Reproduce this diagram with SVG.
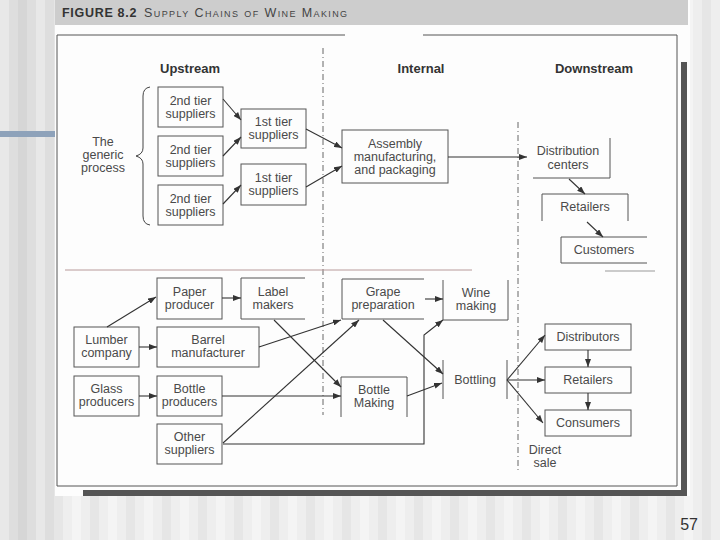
<svg xmlns="http://www.w3.org/2000/svg" width="720" height="540" viewBox="0 0 720 540">
<defs>
<pattern id="stripes" x="0" y="0" width="36" height="10" patternUnits="userSpaceOnUse">
<rect x="0" y="0" width="36" height="10" fill="#dedede"/>
<rect x="0" y="0" width="9" height="10" fill="#e8e8e8"/>
<rect x="18" y="0" width="9" height="10" fill="#d6d6d6"/>
</pattern>
<pattern id="stripesL" x="0" y="0" width="36" height="10" patternUnits="userSpaceOnUse">
<rect x="0" y="0" width="36" height="10" fill="#eeeeee"/>
<rect x="0" y="0" width="9" height="10" fill="#f4f4f4"/>
<rect x="18" y="0" width="9" height="10" fill="#e6e6e6"/>
</pattern>
<marker id="ah" markerWidth="8" markerHeight="6" refX="8" refY="3" orient="auto" markerUnits="userSpaceOnUse">
<path d="M0,0 L8,3 L0,6 z" fill="#333"/>
</marker>
<style>
.box{fill:none;stroke:#555;stroke-width:1}
.lbl{font-family:"Liberation Sans",Arial,sans-serif;font-size:12.5px;fill:#4a4a4a;text-anchor:middle}
.hdr{font-family:"Liberation Sans",Arial,sans-serif;font-size:13px;font-weight:bold;fill:#333;text-anchor:middle}
.cn{fill:none;stroke:#333;stroke-width:1.1;marker-end:url(#ah)}
.sep{fill:none;stroke:#666;stroke-width:1;stroke-dasharray:6,3,1,3}
</style>
</defs>
<rect x="0" y="0" width="720" height="540" fill="url(#stripesL)"/>
<rect x="0" y="0" width="54" height="540" fill="url(#stripes)"/>
<rect x="0" y="131" width="55" height="6" fill="#8ea2ba"/>
<rect x="55" y="0" width="635" height="496" fill="#fdfdfd"/>
<rect x="55" y="0" width="633" height="25" fill="#cdcdcd"/>
<text x="62" y="17" font-family="Liberation Sans, Arial, sans-serif" font-size="12.5" fill="#333"><tspan font-weight="bold" letter-spacing="0.7">FIGURE 8.2</tspan><tspan x="144" font-variant="small-caps" letter-spacing="1.4" fill="#444">Supply Chains of Wine Making</tspan></text>
<path d="M57,35 H345 M423,35 H677 V486 H57 V35" fill="none" stroke="#555" stroke-width="1"/>
<rect x="681" y="62" width="6" height="434" fill="#555"/>
<rect x="83" y="490" width="604" height="6" fill="#555"/>
<text x="698" y="530" font-family="Liberation Sans, Arial, sans-serif" font-size="16" fill="#333" text-anchor="end">57</text>
<g id="separators">
<line class="sep" x1="323" y1="48" x2="323" y2="415"/>
<line class="sep" x1="518" y1="122" x2="518" y2="470"/>
<line x1="65" y1="270" x2="472" y2="270" stroke="#b89a9a" stroke-width="1"/>
<line x1="605" y1="271" x2="655" y2="271" stroke="#999" stroke-width="1"/>
</g>
<g id="headers">
<text class="hdr" x="190" y="73">Upstream</text>
<text class="hdr" x="421" y="73">Internal</text>
<text class="hdr" x="594" y="73">Downstream</text>
</g>
<g id="generic">
<path d="M150,87 Q143,88 143,96 V148 Q143,154 136,156 Q143,158 143,164 V216 Q143,224 150,225" fill="none" stroke="#444" stroke-width="1"/>
<text class="lbl" x="103" y="146">The</text>
<text class="lbl" x="103" y="159">generic</text>
<text class="lbl" x="103" y="172">process</text>
</g>
<g id="t2a"><rect class="box" x="158" y="87" width="65" height="40"/><text class="lbl" x="190.5" y="105">2nd tier</text><text class="lbl" x="190.5" y="118">suppliers</text></g>
<g id="t2b"><rect class="box" x="158" y="136" width="65" height="40"/><text class="lbl" x="190.5" y="154">2nd tier</text><text class="lbl" x="190.5" y="167">suppliers</text></g>
<g id="t2c"><rect class="box" x="158" y="185" width="65" height="40"/><text class="lbl" x="190.5" y="203">2nd tier</text><text class="lbl" x="190.5" y="216">suppliers</text></g>
<g id="t1a"><rect class="box" x="241" y="109" width="65" height="39"/><text class="lbl" x="273.5" y="126">1st tier</text><text class="lbl" x="273.5" y="139">suppliers</text></g>
<g id="t1b"><rect class="box" x="241" y="164" width="65" height="41"/><text class="lbl" x="273.5" y="182">1st tier</text><text class="lbl" x="273.5" y="195">suppliers</text></g>
<g id="assembly"><rect class="box" x="342" y="130" width="106" height="53"/><text class="lbl" x="395" y="148">Assembly</text><text class="lbl" x="395" y="161">manufacturing,</text><text class="lbl" x="395" y="174">and packaging</text></g>
<g id="distcenters"><path class="box" d="M610,138 V178 H533"/><text class="lbl" x="568" y="155">Distribution</text><text class="lbl" x="568" y="169">centers</text></g>
<g id="retailers1"><path class="box" d="M542,221 V194 H628 V221"/><text class="lbl" x="585" y="211">Retailers</text></g>
<g id="customers1"><path class="box" d="M647,237 H561 V263 H647"/><text class="lbl" x="604" y="254">Customers</text></g>
<g id="paper"><rect class="box" x="157" y="278" width="65" height="41"/><text class="lbl" x="189.5" y="296">Paper</text><text class="lbl" x="189.5" y="309">producer</text></g>
<g id="label"><path class="box" d="M305,278 H241 V319 H305"/><text class="lbl" x="273" y="296">Label</text><text class="lbl" x="273" y="309">makers</text></g>
<g id="lumber"><rect class="box" x="74" y="327" width="65" height="40"/><text class="lbl" x="106.5" y="344">Lumber</text><text class="lbl" x="106.5" y="357">company</text></g>
<g id="barrel"><rect class="box" x="157" y="327" width="102" height="40"/><text class="lbl" x="208" y="344">Barrel</text><text class="lbl" x="208" y="357">manufacturer</text></g>
<g id="glass"><rect class="box" x="74" y="376" width="65" height="40"/><text class="lbl" x="106.5" y="393">Glass</text><text class="lbl" x="106.5" y="406">producers</text></g>
<g id="bottleprod"><rect class="box" x="157" y="376" width="65" height="40"/><text class="lbl" x="189.5" y="393">Bottle</text><text class="lbl" x="189.5" y="406">producers</text></g>
<g id="other"><rect class="box" x="157" y="424" width="65" height="40"/><text class="lbl" x="189.5" y="441">Other</text><text class="lbl" x="189.5" y="454">suppliers</text></g>
<g id="grape"><path class="box" d="M424,279 H342 V319 H424"/><text class="lbl" x="383" y="296">Grape</text><text class="lbl" x="383" y="309">preparation</text></g>
<g id="wine"><path class="box" d="M443,280 V320 H508 V280"/><text class="lbl" x="476" y="297">Wine</text><text class="lbl" x="476" y="310">making</text></g>
<g id="bottlemaking"><path class="box" d="M341,417 V377 H407 V417"/><text class="lbl" x="374" y="394">Bottle</text><text class="lbl" x="374" y="407">Making</text></g>
<g id="bottling"><path class="box" d="M443,360 V399 M507,360 V399"/><text class="lbl" x="475" y="384">Bottling</text></g>
<g id="distributors"><rect class="box" x="545" y="324" width="86" height="26"/><text class="lbl" x="588" y="341">Distributors</text></g>
<g id="retailers2"><rect class="box" x="545" y="367" width="86" height="26"/><text class="lbl" x="588" y="384">Retailers</text></g>
<g id="consumers"><rect class="box" x="545" y="410" width="86" height="26"/><text class="lbl" x="588" y="427">Consumers</text></g>
<g id="direct"><text class="lbl" x="545" y="454">Direct</text><text class="lbl" x="545" y="467">sale</text></g>
<g id="connectors">
<line class="cn" x1="223" y1="99" x2="241" y2="120"/>
<line class="cn" x1="223" y1="156" x2="241" y2="137"/>
<line class="cn" x1="223" y1="204" x2="241" y2="185"/>
<line class="cn" x1="306" y1="129" x2="342" y2="148"/>
<line class="cn" x1="306" y1="187" x2="342" y2="166"/>
<line class="cn" x1="448" y1="157" x2="527" y2="157"/>
<line class="cn" x1="569" y1="179" x2="585" y2="194"/>
<line class="cn" x1="587" y1="222" x2="603" y2="237"/>
<line class="cn" x1="107" y1="327" x2="156" y2="297"/>
<line class="cn" x1="139" y1="347" x2="157" y2="347" stroke-width="1.8"/>
<line class="cn" x1="139" y1="396" x2="157" y2="396"/>
<line class="cn" x1="222" y1="298" x2="241" y2="298"/>
<line class="cn" x1="222" y1="396" x2="341" y2="396"/>
<line class="cn" x1="223" y1="443" x2="359" y2="320"/>
<polyline class="cn" points="223,444 424,444 424,335 443,320"/>
<line class="cn" x1="274" y1="320" x2="341" y2="387"/>
<line class="cn" x1="259" y1="347" x2="341" y2="320"/>
<line class="cn" x1="425" y1="299" x2="443" y2="299" stroke-width="1.8"/>
<line class="cn" x1="383" y1="320" x2="443" y2="374"/>
<line class="cn" x1="407" y1="396" x2="442" y2="383"/>
<line class="cn" x1="507" y1="380" x2="545" y2="335"/>
<line class="cn" x1="507" y1="380" x2="545" y2="380" stroke-width="1.8"/>
<line class="cn" x1="507" y1="380" x2="543" y2="423"/>
<line class="cn" x1="588" y1="350" x2="588" y2="367"/>
<line class="cn" x1="588" y1="393" x2="588" y2="410"/>
</g>
</svg>
